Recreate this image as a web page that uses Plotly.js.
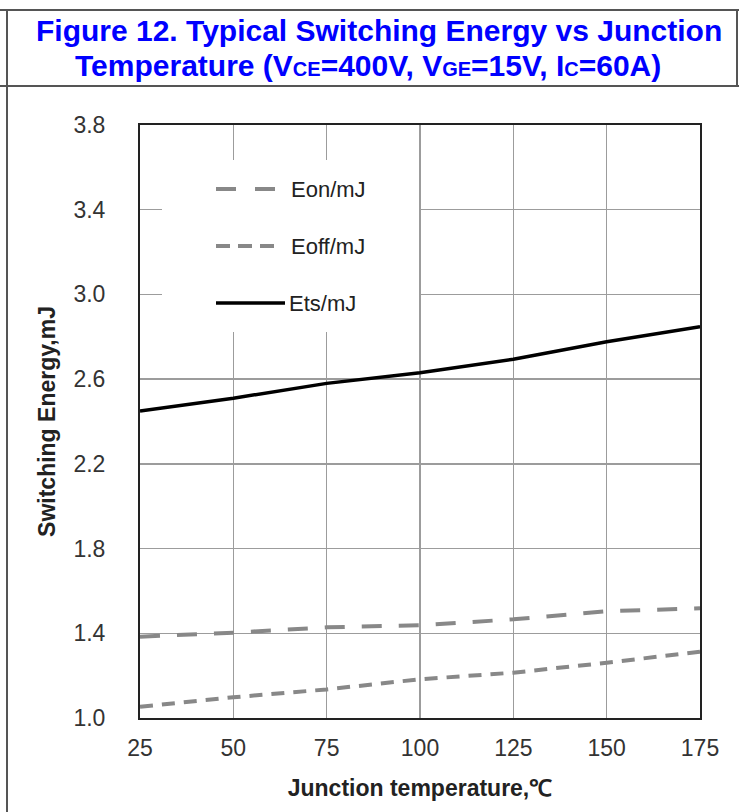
<!DOCTYPE html>
<html>
<head>
<meta charset="utf-8">
<script src="https://cdn.plot.ly/plotly-3.0.1.min.js"></script>
<style>html,body{margin:0;padding:0;background:#fff;}#chart{width:739px;height:812px;}</style>
</head>
<body>
<div id="chart"></div>
<script>
// ---- data ----
const temperature = [25, 50, 75, 100, 125, 150, 175];
const eon  = [1.384, 1.403, 1.428, 1.438, 1.466, 1.504, 1.518];
const eoff = [1.053, 1.098, 1.135, 1.183, 1.214, 1.261, 1.313];
const ets  = [2.45, 2.51, 2.58, 2.63, 2.694, 2.777, 2.848];
const seriesNames = ['Eon/mJ', 'Eoff/mJ', 'Ets/mJ'];
const yTickVals = [1.0, 1.4, 1.8, 2.2, 2.6, 3.0, 3.4, 3.8];
const xTickVals = [25, 50, 75, 100, 125, 150, 175];
const titleLine1 = 'Figure 12. Typical Switching Energy vs Junction';
const titleLine2 = 'Temperature (V<span style="font-size:20px">CE</span>=400V, V<span style="font-size:20px">GE</span>=15V, I<span style="font-size:20px">C</span>=60A)';
const xTitle = 'Junction temperature,℃';
const yTitle = 'Switching Energy,mJ';

// ---- layout geometry (pixels) ----
const W = 739, H = 812;
const M = {l: 140, r: 39, t: 125, b: 94};
const PW = W - M.l - M.r, PH = H - M.t - M.b;
const px = x => (x - M.l) / PW;
const py = y => (H - M.b - y) / PH;

const FONT = 'Liberation Sans, Arial, sans-serif';
const GRAY = '#888888';

const traces = [
  {x: temperature, y: eon, name: seriesNames[0], mode: 'lines',
   line: {color: GRAY, width: 4, dash: '20px,17px'}},
  {x: temperature, y: eoff, name: seriesNames[1], mode: 'lines',
   line: {color: GRAY, width: 4, dash: '13px,9px'}},
  {x: temperature, y: ets, name: seriesNames[2], mode: 'lines',
   line: {color: '#000000', width: 3.5}}
];

const frameLine = {color: '#555555', width: 2};
const shapes = [
  // table frame
  {type: 'line', xref: 'paper', yref: 'paper', x0: px(7), x1: px(7), y0: py(10), y1: py(812), line: frameLine},
  {type: 'line', xref: 'paper', yref: 'paper', x0: px(737), x1: px(737), y0: py(10), y1: py(86), line: frameLine},
  {type: 'line', xref: 'paper', yref: 'paper', x0: px(0), x1: px(739), y0: py(10), y1: py(10), line: frameLine},
  {type: 'line', xref: 'paper', yref: 'paper', x0: px(0), x1: px(739), y0: py(86), y1: py(86), line: frameLine},
  // legend background box
  {type: 'rect', xref: 'paper', yref: 'paper', x0: px(162), x1: px(419), y0: py(160), y1: py(332),
   fillcolor: '#ffffff', line: {width: 0}},
  // legend samples
  {type: 'line', xref: 'paper', yref: 'paper', x0: px(216), x1: px(277), y0: py(189), y1: py(189),
   line: {color: GRAY, width: 4, dash: '20px,19px'}},
  {type: 'line', xref: 'paper', yref: 'paper', x0: px(216), x1: px(277), y0: py(246), y1: py(246),
   line: {color: GRAY, width: 4, dash: '14px,8px'}},
  {type: 'line', xref: 'paper', yref: 'paper', x0: px(216), x1: px(285), y0: py(303), y1: py(303),
   line: {color: '#000000', width: 3.5}}
];

const legendFont = {family: FONT, size: 22, color: '#222222'};
const annotations = [
  {xref: 'paper', yref: 'paper', x: px(379), y: py(31), text: '<b>' + titleLine1 + '</b>', showarrow: false,
   xanchor: 'center', yanchor: 'middle', font: {family: FONT, size: 30, color: '#0000ff'}},
  {xref: 'paper', yref: 'paper', x: px(368), y: py(66), text: '<b>' + titleLine2 + '</b>', showarrow: false,
   xanchor: 'center', yanchor: 'middle', font: {family: FONT, size: 30, color: '#0000ff'}},
  {xref: 'paper', yref: 'paper', x: px(289), y: py(189), text: seriesNames[0], showarrow: false,
   xanchor: 'left', yanchor: 'middle', font: legendFont},
  {xref: 'paper', yref: 'paper', x: px(289), y: py(246), text: seriesNames[1], showarrow: false,
   xanchor: 'left', yanchor: 'middle', font: legendFont},
  {xref: 'paper', yref: 'paper', x: px(287), y: py(303), text: seriesNames[2], showarrow: false,
   xanchor: 'left', yanchor: 'middle', font: legendFont}
];

const axisCommon = {
  showgrid: true, gridcolor: '#9c9c9c', gridwidth: 1.5,
  showline: true, linecolor: '#222222', linewidth: 2, mirror: true,
  zeroline: false, ticks: '',
  tickfont: {family: FONT, size: 23, color: '#333333'}
};

const layout = {
  width: W, height: H,
  margin: M,
  paper_bgcolor: '#ffffff', plot_bgcolor: '#ffffff',
  showlegend: false,
  xaxis: Object.assign({}, axisCommon, {
    range: [25, 175], tickvals: xTickVals, ticktext: xTickVals.map(String),
    ticklabelstandoff: 8,
    title: {text: '<b>' + xTitle + '</b>', font: {family: FONT, size: 23, color: '#222222'}, standoff: 20}
  }),
  yaxis: Object.assign({}, axisCommon, {
    range: [1.0, 3.8], tickvals: yTickVals, ticktext: yTickVals.map(v => v.toFixed(1)),
    ticklabelstandoff: 28,
    title: {text: '<b>' + yTitle + '</b>', font: {family: FONT, size: 23, color: '#222222'}, standoff: 11}
  }),
  shapes: shapes,
  annotations: annotations
};

Plotly.newPlot('chart', traces, layout, {displayModeBar: false, staticPlot: true});
</script>
</body>
</html>
